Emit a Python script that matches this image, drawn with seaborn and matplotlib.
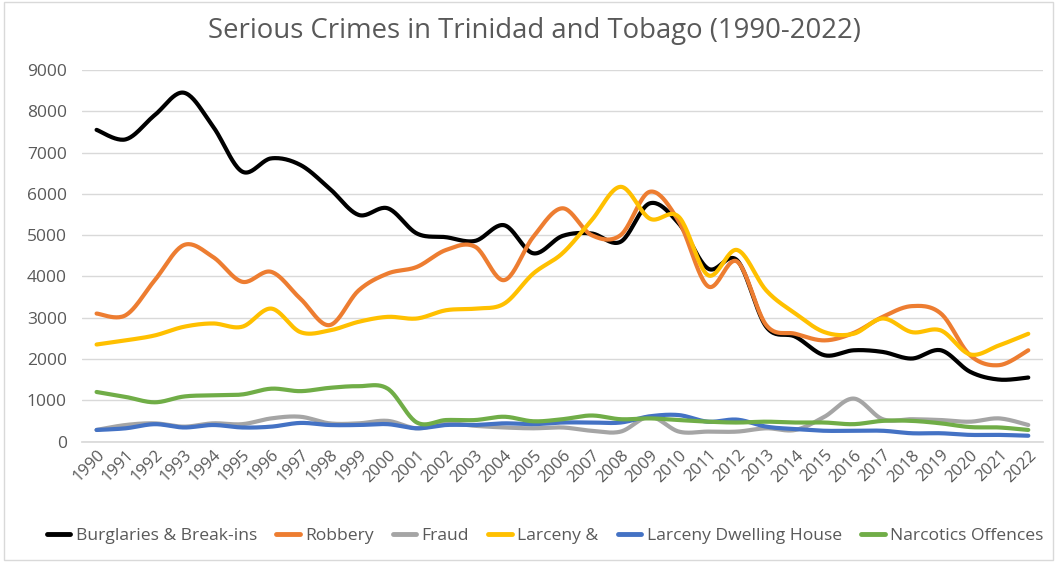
import numpy as np
import pandas as pd
import matplotlib
matplotlib.use("Agg")
import matplotlib.pyplot as plt
import seaborn as sns
from matplotlib.lines import Line2D
from matplotlib.patches import Rectangle

years = list(range(1990, 2023))
burglaries = [7550, 7320, 7910, 8450, 7630, 6540, 6860, 6700, 6130, 5490, 5650, 5040, 4950, 4860, 5240, 4560,
              4980, 5040, 4840, 5770, 5280, 4190, 4390, 2780, 2540, 2090, 2210, 2170, 2010, 2210, 1690, 1500, 1550]
robbery = [3100, 3060, 3910, 4760, 4470, 3870, 4110, 3460, 2820, 3660, 4070, 4230, 4640, 4720, 3910, 4960,
           5650, 5000, 5000, 6050, 5330, 3760, 4360, 2820, 2610, 2450, 2630, 3020, 3280, 3100, 2090, 1850, 2210]
fraud = [280, 400, 440, 360, 440, 420, 560, 600, 440, 440, 500, 320, 440, 380, 340, 320,
         340, 260, 240, 600, 240, 240, 240, 320, 280, 600, 1040, 540, 540, 520, 480, 560, 400]
larceny = [2350, 2450, 2570, 2780, 2860, 2780, 3220, 2650, 2690, 2900, 3020, 2980, 3180, 3220, 3340, 4070,
           4560, 5360, 6170, 5400, 5440, 4030, 4640, 3660, 3100, 2650, 2610, 2980, 2650, 2690, 2110, 2330, 2610]
larceny_dwelling = [280, 320, 420, 340, 400, 340, 360, 450, 400, 400, 420, 320, 400, 400, 440, 420,
                    460, 460, 460, 610, 640, 480, 530, 360, 300, 260, 260, 260, 200, 200, 160, 160, 140]
narcotics = [1200, 1080, 950, 1090, 1120, 1140, 1280, 1220, 1300, 1340, 1280, 460, 520, 520, 600, 490,
             540, 630, 540, 560, 520, 480, 460, 480, 460, 460, 420, 500, 500, 440, 350, 340, 280]

series_names = ["Burglaries & Break-ins", "Robbery", "Fraud", "Larceny &", "Larceny Dwelling House", "Narcotics Offences"]
series_values = [burglaries, robbery, fraud, larceny, larceny_dwelling, narcotics]
colors = ["#000000", "#ED7D31", "#A5A5A5", "#FFC000", "#4472C4", "#70AD47"]


def smooth(xs, ys, n=24):
    xs = np.asarray(xs, float)
    ys = np.asarray(ys, float)
    P = np.column_stack([xs, ys])
    out = []
    m = len(P)
    for i in range(m - 1):
        p0 = P[i - 1] if i > 0 else P[i]
        p1 = P[i]
        p2 = P[i + 1]
        p3 = P[i + 2] if i + 2 < m else P[i + 1]
        c1 = p1 + (p2 - p0) / 6.0
        c2 = p2 - (p3 - p1) / 6.0
        t = np.linspace(0, 1, n, endpoint=(i == m - 2))[:, None]
        seg = (1 - t) ** 3 * p1 + 3 * (1 - t) ** 2 * t * c1 + 3 * (1 - t) * t ** 2 * c2 + t ** 3 * p2
        out.append(seg)
    return np.vstack(out)


frames = []
for name, vals in zip(series_names, series_values):
    pts = smooth(years, vals)
    frames.append(pd.DataFrame({"x": pts[:, 0], "y": pts[:, 1], "series": name}))
df = pd.concat(frames, ignore_index=True)

sns.set_theme(style="white")
plt.rcParams["font.family"] = ["Open Sans", "DejaVu Sans"]

fig = plt.figure(figsize=(10.57, 5.62), dpi=100)
ax = fig.add_axes([0.0776, 0.2144, 0.909, 0.661])

sns.lineplot(data=df, x="x", y="y", hue="series", hue_order=series_names, palette=colors,
             sort=False, estimator=None, units="series", linewidth=3.0, ax=ax, legend=False)

ax.set_xlim(1989.5, 2022.5)
ax.set_ylim(0, 9000)
ax.set_yticks(range(0, 9001, 1000))
ax.set_xticks(years)
ax.set_xticklabels([str(y) for y in years], rotation=45, ha="right", rotation_mode="anchor",
                   fontsize=12, color="#595959")
ax.tick_params(axis="y", labelsize=12.5, labelcolor="#595959", length=0, pad=11)
ax.tick_params(axis="x", length=0, pad=4)
ax.grid(axis="y", color="#D9D9D9", linewidth=1.0)
ax.set_axisbelow(True)
for s in ["top", "right", "left"]:
    ax.spines[s].set_visible(False)
ax.spines["bottom"].set_color("#D9D9D9")
ax.set_xlabel("")
ax.set_ylabel("")

fig.text(0.506, 0.945, "Serious Crimes in Trinidad and Tobago (1990-2022)", ha="center", va="center",
         fontsize=19.8, color="#595959")

handles = [Line2D([0], [0], color=c, lw=3.5) for c in colors]
fig.legend(handles, series_names, loc="center", bbox_to_anchor=(0.5156, 0.047), ncol=6, frameon=False,
           fontsize=12.6, labelcolor="#595959", handlelength=1.35, handletextpad=0.3, columnspacing=1.1)

fig.patches.append(Rectangle((0.004, 0.004), 0.992, 0.992, transform=fig.transFigure, fill=False,
                             edgecolor="#D9D9D9", linewidth=1))

fig.savefig("out.png", dpi=100)
